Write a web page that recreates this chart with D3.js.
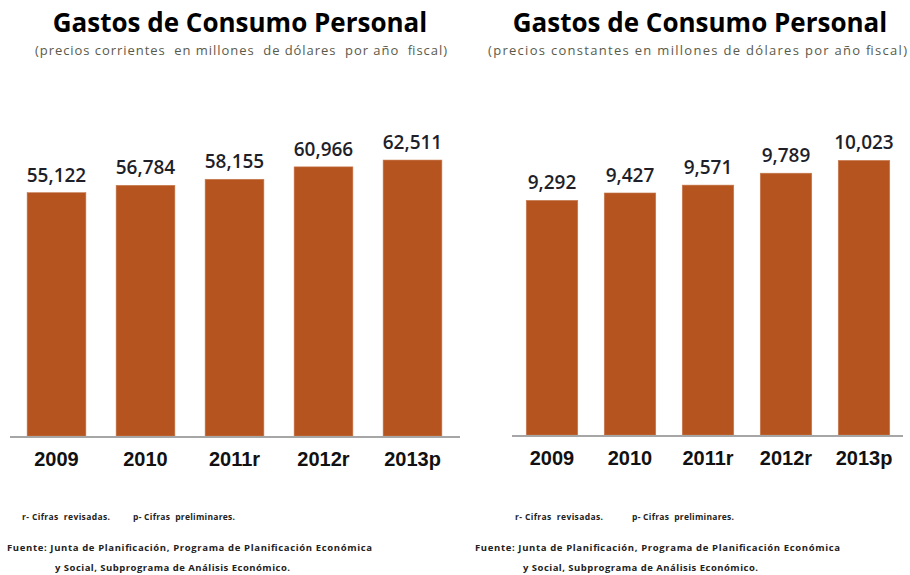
<!DOCTYPE html>
<html>
<head>
<meta charset="utf-8">
<script src="https://cdn.jsdelivr.net/npm/d3@7"></script>
<style>
  body { margin: 0; background: #fff; }
</style>
</head>
<body>
<div class="plot"></div>
<script>

const years = ["2009", "2010", "2011r", "2012r", "2013p"];
const corrientes = [55122, 56784, 58155, 60966, 62511];
const constantes = [9292, 9427, 9571, 9789, 10023];

const titleText = "Gastos de Consumo Personal";
const subCorrientes = "(precios corrientes  en millones  de dólares  por año  fiscal)";
const subConstantes = "(precios constantes en millones de dólares por año fiscal)";
const notaText = "r- Cifras  revisadas.";
const notaText2 = "p- Cifras  preliminares.";
const fuente1 = "Fuente: Junta de Planificación, Programa de Planificación Económica";
const fuente2 = "y Social, Subprograma de Análisis Económico.";

const barColor = "#b5541f";

const fmt = d3.format(",");

document.addEventListener('DOMContentLoaded', () => {

  const svg = d3.select('.plot')
    .append('svg')
    .attr('width', 910)
    .attr('height', 575);

  //left chart: precios corrientes
  createPlot(svg, {
    values: corrientes,
    yDomain: [0, 70000],
    xRange: [12, 457],
    yRange: [436, 127],
    axisX: [10, 460],
    titleX: 240,
    subX: 35, subW: 412,
    subtitle: subCorrientes,
    notaX: 22, nota2X: 133,
    fuenteX: 7, fuente2X: 55
  });

  //right chart: precios constantes
  createPlot(svg, {
    values: constantes,
    yDomain: [5000, 11000],
    xRange: [513, 903],
    yRange: [435, 107],
    axisX: [512, 903],
    titleX: 700,
    subX: 488, subW: 419,
    subtitle: subConstantes,
    notaX: 515, nota2X: 632,
    fuenteX: 475, fuente2X: 523
  });

});

function createPlot(svg, opt){

  const xScale = d3.scaleBand()
    .domain(years)
    .range(opt.xRange)
    .paddingInner(0.34)
    .paddingOuter(0.17);

  const yScale = d3.scaleLinear()
    .domain(opt.yDomain)
    .range(opt.yRange);

  const base = opt.yRange[0];

  const g = svg.append('g');

  //bars
  g.selectAll('.bar')
    .data(opt.values)
    .enter()
    .append('rect')
    .attr('class', 'bar')
    .attr('x', (d, i) => xScale(years[i]))
    .attr('y', d => yScale(d))
    .attr('width', xScale.bandwidth())
    .attr('height', d => base - yScale(d))
    .attr('fill', barColor)
    .attr('stroke', '#c77a4f')
    .attr('stroke-width', 0.6);

  //axis line
  g.append('line')
    .attr('x1', opt.axisX[0])
    .attr('x2', opt.axisX[1])
    .attr('y1', base + 1)
    .attr('y2', base + 1)
    .attr('stroke', '#a6a6a6')
    .attr('stroke-width', 2);

  //value labels
  g.selectAll('.val')
    .data(opt.values)
    .enter()
    .append('text')
    .attr('class', 'val')
    .attr('x', (d, i) => xScale(years[i]) + xScale.bandwidth()/2)
    .attr('y', d => yScale(d) - 11)
    .attr('text-anchor', 'middle')
    .attr('font-family', 'Open Sans')
    .attr('font-weight', 600)
    .attr('font-size', 19)
    .attr('fill', '#1f1f2a')
    .text(d => fmt(d));

  //category labels
  g.selectAll('.cat')
    .data(years)
    .enter()
    .append('text')
    .attr('class', 'cat')
    .attr('x', d => xScale(d) + xScale.bandwidth()/2)
    .attr('y', base + 30)
    .attr('text-anchor', 'middle')
    .attr('font-family', 'Liberation Sans')
    .attr('font-weight', 'bold')
    .attr('font-size', 20)
    .attr('fill', '#111')
    .text(d => d);

  //Title
  g.append('text')
    .attr('x', opt.titleX)
    .attr('y', 32)
    .attr('text-anchor', 'middle')
    .attr('font-family', 'Open Sans')
    .attr('font-weight', 'bold')
    .attr('font-size', 26)
    .attr('fill', '#000')
    .text(titleText);

  //Subtitle
  g.append('text')
    .attr('x', opt.subX)
    .attr('y', 55)
    .attr('font-family', 'Open Sans')
    .attr('font-size', 13)
    .attr('fill', '#5a5a4a')
    .attr('textLength', opt.subW)
    .attr('lengthAdjust', 'spacing')
    .style('white-space', 'pre')
    .text(opt.subtitle);

  //notes
  const small = (x, y, t, size, w) => {
    const s = g.append('text')
      .attr('x', x)
      .attr('y', y)
      .attr('font-family', 'Open Sans')
      .attr('font-weight', 'bold')
      .attr('font-size', size)
      .attr('fill', '#222')
      .style('white-space', 'pre')
      .text(t);
    if (w) s.attr('textLength', w).attr('lengthAdjust', 'spacing');
  };

  small(opt.notaX, 520, notaText, 8.5, 88);
  small(opt.nota2X, 520, notaText2, 8.5, 102);
  small(opt.fuenteX, 551, fuente1, 9.5, 365);
  small(opt.fuente2X, 571, fuente2, 9.5, 235);
}
</script>
</body>
</html>
